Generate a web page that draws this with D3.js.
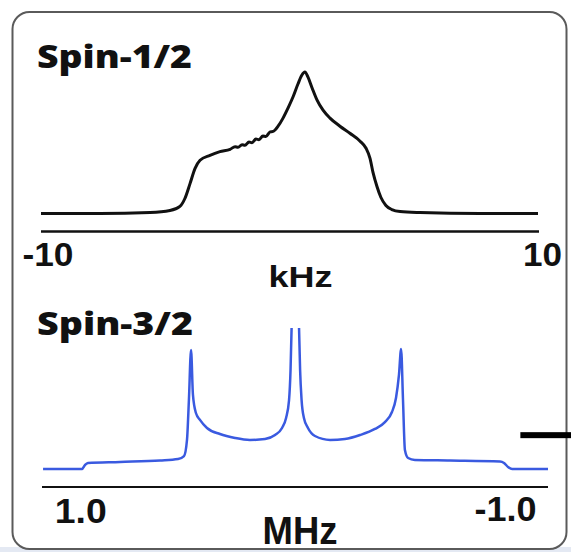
<!DOCTYPE html>
<html><head><meta charset="utf-8">
<script src="https://cdn.jsdelivr.net/npm/d3@7"></script>
<style>html,body{margin:0;padding:0;background:#fff;}svg{display:block;}</style>
</head><body>
<script>
// ---- data ----
const spin12_khz = [-10,-7.63,-5.61,-4.81,-4.41,-4.21,-4.00,-3.80,-3.60,-3.20,-2.80,-2.39,-2.19,-2.07,-1.91,-1.79,-1.63,-1.51,-1.35,-1.23,-1.07,-0.95,-0.78,-0.66,-0.46,-0.26,-0.06,0.14,0.34,0.50,0.62,0.74,0.91,1.11,1.35,1.63,2.03,2.43,2.84,3.08,3.24,3.36,3.52,3.68,3.88,4.12,4.45,5.25,7.67,10];
const spin12_int = [0,0,0.007,0.021,0.050,0.106,0.213,0.319,0.376,0.411,0.437,0.454,0.472,0.468,0.486,0.482,0.505,0.500,0.526,0.522,0.548,0.545,0.577,0.580,0.617,0.674,0.745,0.823,0.915,0.979,1.000,0.965,0.887,0.801,0.730,0.674,0.617,0.567,0.511,0.461,0.390,0.291,0.191,0.113,0.057,0.028,0.014,0.007,0,0];

const spin32_mhz = [1.175,0.992,0.978,0.964,0.813,0.625,0.540,0.512,0.498,0.489,0.479,0.470,0.456,0.437,0.404,0.343,0.272,0.202,0.131,0.084,0.051,0.032,0.018,0.011,0.006,
  null,
  -0.029,-0.034,-0.041,-0.052,-0.071,-0.104,-0.175,-0.245,-0.316,-0.386,-0.433,-0.466,-0.485,-0.499,-0.509,-0.518,-0.527,-0.542,-0.574,-0.739,-0.974,-0.993,-1.012,-1.031,-1.200];
const spin32_int = [0,0,0.028,0.043,0.050,0.060,0.071,0.092,0.206,0.489,0.844,0.525,0.397,0.348,0.291,0.248,0.220,0.206,0.213,0.241,0.291,0.362,0.489,0.702,1.0,
  null,
  1.0,0.702,0.489,0.362,0.291,0.234,0.206,0.213,0.241,0.284,0.333,0.404,0.504,0.667,0.851,0.489,0.135,0.078,0.064,0.060,0.053,0.043,0.014,0,0];

const khzTicks = [-10, 10];
const mhzTicks = [1.0, -1.0];
const tickText12 = ["-10", "10"];
const tickText32 = ["1.0", "-1.0"];
const titles = ["Spin-1/2", "Spin-3/2"];
const units = ["kHz", "MHz"];
const scaleBar = [-1.07, -1.31];
const scaleBarLevel = 0.24;

// ---- layout ----
const W = 571, H = 552;
const svg = d3.select("body").append("svg").attr("width", W).attr("height", H);

svg.append("rect").attr("x",0).attr("y",547).attr("width",W).attr("height",5).attr("fill","#e4e9f3");
svg.append("rect").attr("x",12.5).attr("y",12).attr("width",554).attr("height",537)
  .attr("rx",17).attr("ry",17).attr("fill","#fff").attr("stroke","#5a5a5a").attr("stroke-width",2);

const numFont = "'Liberation Sans', Arial, sans-serif";
const titleFont = "'Open Sans', 'Noto Sans', sans-serif";

// top panel
const x1 = d3.scaleLinear().domain([-10, 10]).range([41, 538]);
const y1 = d3.scaleLinear().domain([0, 1]).range([213.5, 72]);
const d12 = spin12_khz.map((k,i)=>({x:k, y:spin12_int[i]}));
svg.append("path").datum(d12)
  .attr("d", d3.line().x(d=>x1(d.x)).y(d=>y1(d.y)).curve(d3.curveMonotoneX))
  .attr("fill","none").attr("stroke","#111").attr("stroke-width",3).attr("stroke-linejoin","round");

svg.append("line").attr("x1",x1(-10)).attr("x2",x1(10)+1).attr("y1",231.5).attr("y2",231.5)
  .attr("stroke","#111").attr("stroke-width",2.5);

const dx12 = [7, 4.5];
svg.selectAll(".t12").data(khzTicks).join("text")
  .attr("x",(d,i)=>x1(d)+dx12[i]).attr("y",266).attr("text-anchor","middle")
  .attr("font-family",numFont).attr("font-weight","bold").attr("font-size",33)
  .attr("textLength",(d,i)=>i===0?51:39).attr("lengthAdjust","spacingAndGlyphs")
  .attr("fill","#111").text((d,i)=>tickText12[i]);

svg.append("text").attr("x",300.5).attr("y",287).attr("text-anchor","middle")
  .attr("font-family",numFont).attr("font-weight","bold").attr("font-size",30)
  .attr("textLength",64).attr("lengthAdjust","spacingAndGlyphs").attr("fill","#111").text(units[0]);

svg.append("text").attr("x",37).attr("y",68)
  .attr("font-family",titleFont).attr("font-weight",800).attr("font-size",32)
  .attr("textLength",155).attr("lengthAdjust","spacingAndGlyphs").attr("fill","#111").text(titles[0]);

// bottom panel
const x2 = d3.scaleLinear().domain([1.18, -1.2]).range([42, 548]);
const y2 = d3.scaleLinear().domain([0, 1]).range([469, 328]);
const d32 = spin32_mhz.map((m,i)=>({x:m, y:spin32_int[i]}));
svg.append("path").datum(d32)
  .attr("d", d3.line().defined(d=>d.x!==null).x(d=>x2(d.x)).y(d=>y2(d.y)).curve(d3.curveMonotoneX))
  .attr("fill","none").attr("stroke","#3a5ae0").attr("stroke-width",2.5).attr("stroke-linejoin","round");

svg.append("line").attr("x1",x2(1.18)).attr("x2",x2(-1.2)).attr("y1",487).attr("y2",487)
  .attr("stroke","#111").attr("stroke-width",2.2);

svg.append("rect").attr("x",x2(scaleBar[0])).attr("y",y2(scaleBarLevel)-3)
  .attr("width",x2(scaleBar[1])-x2(scaleBar[0])).attr("height",6).attr("fill","#000");

const ys32 = [523, 521];
svg.selectAll(".t32").data(mhzTicks).join("text")
  .attr("x",(d)=>x2(d)+(d>0?0.5:0)).attr("y",(d,i)=>ys32[i]).attr("text-anchor","middle")
  .attr("font-family",numFont).attr("font-weight","bold").attr("font-size",35)
  .attr("textLength",(d,i)=>i===0?52:62).attr("lengthAdjust","spacingAndGlyphs")
  .attr("fill","#111").text((d,i)=>tickText32[i]);

svg.append("text").attr("x",300).attr("y",544).attr("text-anchor","middle")
  .attr("font-family",numFont).attr("font-weight","bold").attr("font-size",39)
  .attr("textLength",75).attr("lengthAdjust","spacingAndGlyphs").attr("fill","#111").text(units[1]);

svg.append("text").attr("x",37).attr("y",335)
  .attr("font-family",titleFont).attr("font-weight",800).attr("font-size",32)
  .attr("textLength",156).attr("lengthAdjust","spacingAndGlyphs").attr("fill","#111").text(titles[1]);
</script>
</body></html>
